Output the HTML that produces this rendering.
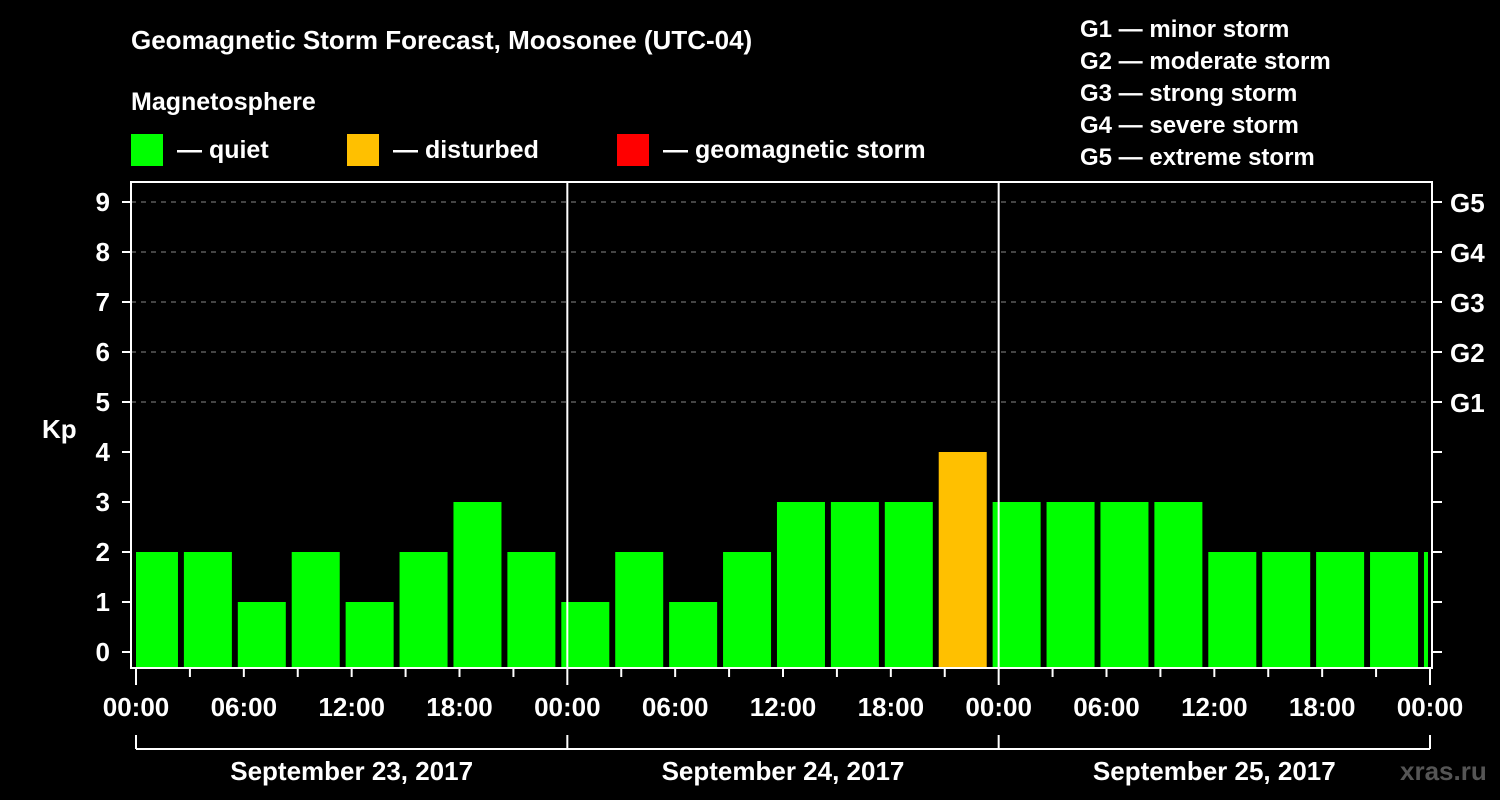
<!DOCTYPE html>
<html><head><meta charset="utf-8"><style>
body{margin:0;background:#000;}
svg{display:block;font-family:"Liberation Sans",sans-serif;font-weight:bold;fill:#fff;}
</style></head><body>
<svg id="chart" width="1500" height="800">
<text x="131" y="49" font-size="26">Geomagnetic Storm Forecast, Moosonee (UTC-04)</text>
<text x="131" y="110" font-size="25">Magnetosphere</text>
<g><rect x="131" y="134" width="32" height="32" fill="#00ff00"/><text x="177" y="158" font-size="25">— quiet</text></g>
<g><rect x="347" y="134" width="32" height="32" fill="#ffc000"/><text x="393" y="158" font-size="25">— disturbed</text></g>
<g><rect x="617" y="134" width="32" height="32" fill="#ff0000"/><text x="663" y="158" font-size="25">— geomagnetic storm</text></g>
<g font-size="24">
<text x="1080" y="37">G1 — minor storm</text><text x="1080" y="69">G2 — moderate storm</text><text x="1080" y="101">G3 — strong storm</text><text x="1080" y="133">G4 — severe storm</text><text x="1080" y="165">G5 — extreme storm</text>
</g>
<text x="42" y="438" font-size="26">Kp</text>
<text x="1400" y="780" font-size="26" fill="#666" style="fill:#555">xras.ru</text>
<g id="grid"></g><g id="bars"></g><g id="axes"></g>
</svg>
<script>
const categories=["00","03","06","09","12","15","18","21","00","03","06","09","12","15","18","21","00","03","06","09","12","15","18","21","00"];
const kpValues=[2,2,1,2,1,2,3,2,1,2,1,2,3,3,3,4,3,3,3,3,2,2,2,2,2];
const yTickLabels=["0","1","2","3","4","5","6","7","8","9"];
const gLabels=["G1","G2","G3","G4","G5"];
const xTickLabels=["00:00","06:00","12:00","18:00","00:00","06:00","12:00","18:00","00:00","06:00","12:00","18:00","00:00"];
const dayLabels=["September 23, 2017","September 24, 2017","September 25, 2017"];
const NS="http://www.w3.org/2000/svg";
const x0=136,dayW=431.33,L=131,R=1432,T=182,B=668;
const xh=h=>x0+h*dayW/24;
const y=k=>652-50*k;
function mk(tag,attrs,parent,txt){const e=document.createElementNS(NS,tag);for(const k in attrs)e.setAttribute(k,attrs[k]);if(txt!==undefined)e.textContent=txt;document.getElementById(parent).appendChild(e);return e;}
// grid
for(let k=5;k<=9;k++){const g=mk('line',{x1:L,x2:R,y1:y(k),y2:y(k),stroke:'#888','stroke-dasharray':'5,5','stroke-width':1},'grid');

}
// bars
kpValues.forEach((v,i)=>{const c=xh(i*3+1);let a=c-24,b=c+24;a=Math.max(a,L+5);b=Math.min(b,R-4);
const col=v>=5?'#ff0000':(v>=4?'#ffc000':'#00ff00');
const r=mk('rect',{x:a,y:y(v),width:b-a,height:B-y(v),fill:col},'bars');

});
// frame
const f=mk('rect',{x:L,y:T,width:R-L,height:B-T,fill:'none',stroke:'#fff','stroke-width':2},'axes');


for(let d=1;d<3;d++){const l=mk('line',{x1:xh(24*d),x2:xh(24*d),y1:T,y2:B,stroke:'#fff','stroke-width':2},'axes');

}
yTickLabels.forEach((t,k)=>{mk('line',{x1:122,x2:L,y1:y(k),y2:y(k),stroke:'#fff','stroke-width':2},'axes');
mk('line',{x1:R,x2:1442,y1:y(k),y2:y(k),stroke:'#fff','stroke-width':2},'axes');
const e=mk('text',{x:110,y:y(k)+9,'font-size':26,'text-anchor':'end'},'axes',t);

});
gLabels.forEach((t,i)=>{const e=mk('text',{x:1450,y:y(i+5)+10,'font-size':26},'axes',t);

});
for(let h=0;h<=72;h+=3){const len=h%24==0?17:9;mk('line',{x1:xh(h),x2:xh(h),y1:B,y2:B+len,stroke:'#fff','stroke-width':2},'axes');}
xTickLabels.forEach((t,i)=>{const e=mk('text',{x:xh(i*6),y:716,'font-size':26,'text-anchor':'middle'},'axes',t);

});
mk('line',{x1:xh(0),x2:xh(72),y1:749,y2:749,stroke:'#fff','stroke-width':2},'axes');
for(let d=0;d<=3;d++)mk('line',{x1:xh(24*d),x2:xh(24*d),y1:735,y2:749,stroke:'#fff','stroke-width':2},'axes');
dayLabels.forEach((t,d)=>{const e=mk('text',{x:xh(24*d+12),y:780,'font-size':26,'text-anchor':'middle'},'axes',t);

});
</script>
</body></html>
